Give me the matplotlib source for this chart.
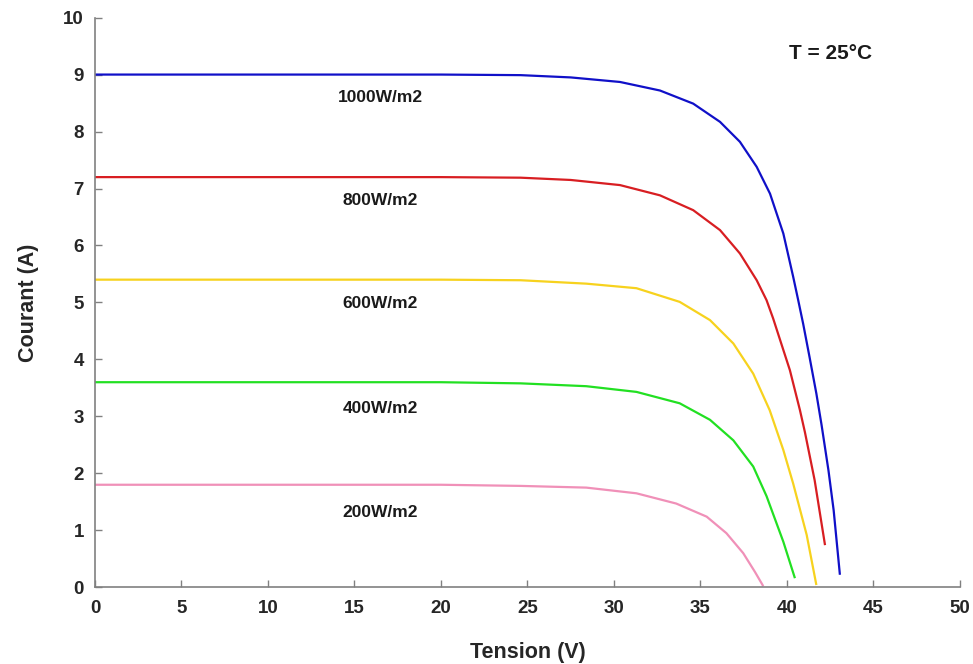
import matplotlib
matplotlib.use("Agg")
import matplotlib.pyplot as plt

plt.rcParams['font.family'] = ['Liberation Sans', 'DejaVu Sans']

# Data (tension V, courant A)
v_1000 = [0, 5, 10, 15, 20, 24.6, 27.5, 30.35, 32.66, 34.58, 36.13, 37.28, 38.25, 39.02, 39.79,
          40.36, 40.65, 40.94, 41.3, 41.7, 42.0, 42.4, 42.7, 43.06]
i_1000 = [9.0, 9.0, 9.0, 9.0, 9.0, 8.99, 8.95, 8.87, 8.72, 8.49, 8.17, 7.82, 7.38, 6.91, 6.21,
          5.45, 5.04, 4.62, 4.05, 3.4, 2.85, 2.05, 1.35, 0.22]

v_800 = [0, 5, 10, 15, 20, 24.6, 27.5, 30.35, 32.66, 34.58, 36.13, 37.28, 38.25, 38.82, 39.2,
         40.17, 40.75, 41.04, 41.6, 42.2]
i_800 = [7.2, 7.2, 7.2, 7.2, 7.2, 7.19, 7.15, 7.06, 6.88, 6.62, 6.27, 5.86, 5.39, 5.04, 4.72,
         3.81, 3.11, 2.72, 1.88, 0.74]

v_600 = [0, 5, 10, 15, 20, 24.6, 28.4, 31.3, 33.8, 35.55, 36.9, 38.05, 39.0, 39.79, 40.36, 41.14, 41.7]
i_600 = [5.4, 5.4, 5.4, 5.4, 5.4, 5.39, 5.33, 5.25, 5.01, 4.69, 4.28, 3.75, 3.11, 2.41, 1.82, 0.92, 0.04]

v_400 = [0, 5, 10, 15, 20, 24.6, 28.4, 31.3, 33.8, 35.55, 36.9, 38.05, 38.82, 39.79, 40.46]
i_400 = [3.6, 3.6, 3.6, 3.6, 3.6, 3.58, 3.53, 3.43, 3.23, 2.94, 2.58, 2.12, 1.6, 0.8, 0.16]

v_200 = [0, 5, 10, 15, 20, 24.6, 28.4, 31.3, 33.6, 35.36, 36.5, 37.47, 38.15, 38.63]
i_200 = [1.8, 1.8, 1.8, 1.8, 1.8, 1.78, 1.75, 1.65, 1.47, 1.24, 0.95, 0.60, 0.27, 0.02]

labels = ['1000W/m2', '800W/m2', '600W/m2', '400W/m2', '200W/m2']
label_y = [8.59, 6.79, 4.98, 3.13, 1.31]
label_x = 16.5
colors = ['#1010C8', '#D81E22', '#F7D21E', '#22E022', '#F090B8']

x_ticks = [0, 5, 10, 15, 20, 25, 30, 35, 40, 45, 50]
y_ticks = [0, 1, 2, 3, 4, 5, 6, 7, 8, 9, 10]

fig = plt.figure(figsize=(9.73, 6.64), dpi=100)
ax = fig.add_axes([0.0976, 0.1155, 0.889, 0.858])

series = [(v_1000, i_1000), (v_800, i_800), (v_600, i_600), (v_400, i_400), (v_200, i_200)]
for (v, i), c in zip(series, colors):
    ax.plot(v, i, color=c, lw=1.6, solid_joinstyle='round', solid_capstyle='butt')

for lab, ly in zip(labels, label_y):
    ax.text(label_x, ly, lab, ha='center', va='center', fontsize=12.5, fontweight='bold', color='#1a1a1a')

ax.text(42.5, 9.37, 'T = 25°C', ha='center', va='center', fontsize=15, fontweight='bold', color='#1a1a1a')

ax.set_xlim(0, 50)
ax.set_ylim(0, 10)
ax.set_xticks(x_ticks)
ax.set_yticks(y_ticks)
ax.tick_params(direction='in', length=5, width=1, color='#808080', labelsize=13.5, labelcolor='#262626')
ax.tick_params(axis='x', pad=9)
ax.tick_params(axis='y', pad=8)
for lab in ax.get_xticklabels() + ax.get_yticklabels():
    lab.set_fontweight('bold')

for s in ['top', 'right']:
    ax.spines[s].set_visible(False)
for s in ['left', 'bottom']:
    ax.spines[s].set_color('#808080')
    ax.spines[s].set_linewidth(1.2)

ax.set_xlabel('Tension (V)', fontsize=15.5, fontweight='bold', color='#262626', labelpad=18)
ax.set_ylabel('Courant (A)', fontsize=15.5, fontweight='bold', color='#262626', labelpad=17)

fig.savefig('out.png', dpi=100, facecolor='white')
